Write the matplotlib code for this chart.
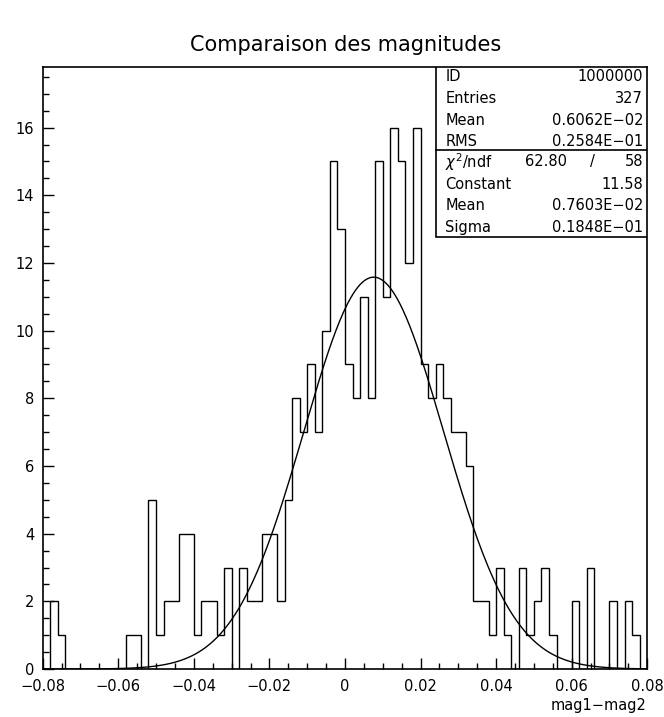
import numpy as np
import matplotlib
matplotlib.use('Agg')
import matplotlib.pyplot as plt
from matplotlib.patches import Rectangle
from matplotlib.ticker import MultipleLocator

# histogramme: 80 canaux de -0.08 a 0.08
x_min, x_max, n_bins = -0.08, 0.08, 80
counts = [0, 2, 1, 0, 0, 0, 0, 0, 0, 0,
          0, 1, 1, 0, 5, 1, 2, 2, 4, 4,
          1, 2, 2, 1, 3, 0, 3, 2, 2, 4,
          4, 2, 5, 8, 7, 9, 7, 10, 15, 13,
          9, 8, 11, 8, 15, 11, 16, 15, 12, 16,
          9, 8, 9, 8, 7, 7, 6, 2, 2, 1,
          3, 1, 0, 3, 1, 2, 3, 1, 0, 0,
          2, 0, 3, 0, 0, 2, 0, 2, 1, 0]

# ajustement gaussien
fit_const, fit_mean, fit_sigma = 11.58, 0.7603e-02, 0.1848e-01

stats_labels = ['ID', 'Entries', 'Mean', 'RMS']
stats_values = ['1000000', '327', '0.6062E\u221202', '0.2584E\u221201']
fit_labels = ['Constant', 'Mean', 'Sigma']
fit_values = ['11.58', '0.7603E\u221202', '0.1848E\u221201']
chi2, ndf = '62.80', '58'

edges = np.linspace(x_min, x_max, n_bins + 1)

fig = plt.figure(figsize=(6.64, 7.17), dpi=100)
ax = fig.add_axes([0.0643, 0.0669, 0.9105, 0.8401])

ax.stairs(counts, edges, color='black', linewidth=1.0)
xs = np.linspace(x_min, x_max, 500)
ax.plot(xs, fit_const * np.exp(-0.5 * ((xs - fit_mean) / fit_sigma) ** 2),
        color='black', linewidth=1.0)

ax.set_xlim(x_min, x_max)
ax.set_ylim(0, 17.8)
ax.xaxis.set_major_locator(MultipleLocator(0.02))
ax.xaxis.set_minor_locator(MultipleLocator(0.005))
ax.yaxis.set_major_locator(MultipleLocator(2))
ax.yaxis.set_minor_locator(MultipleLocator(0.5))
ax.tick_params(which='both', direction='in', top=False, right=False,
               labelsize=10.5, width=1.0)
ax.tick_params(which='major', length=8)
ax.tick_params(which='minor', length=4.5)
ax.tick_params(axis='x', pad=7)
ax.tick_params(axis='y', pad=6)
ax.set_xticks(np.arange(-0.08, 0.0801, 0.02))
ax.set_xticklabels(['\u22120.08', '\u22120.06', '\u22120.04', '\u22120.02', '0',
                    '0.02', '0.04', '0.06', '0.08'])
for s in ax.spines.values():
    s.set_linewidth(1.2)

fig.text(0.52, 0.937, 'Comparaison des magnitudes', ha='center', va='center',
         fontsize=15, color='black')
fig.text(0.974, 0.016, 'mag1\u2212mag2', ha='right', va='center', fontsize=10.5)

# boite de statistiques
bx0, by0, bsep = 0.6505, 0.717, 0.862
ax.add_patch(Rectangle((bx0, by0), 1 - bx0, 1 - by0, transform=ax.transAxes,
                       facecolor='white', edgecolor='black', linewidth=1.2, zorder=5))
ax.plot([bx0, 1], [bsep, bsep], transform=ax.transAxes, color='black',
        linewidth=1.2, zorder=6)
lx, rx = 0.666, 0.993
rows_top = [0.984, 0.948, 0.910, 0.875]
for yy, lab, val in zip(rows_top, stats_labels, stats_values):
    ax.text(lx, yy, lab, transform=ax.transAxes, ha='left', va='center',
            fontsize=10.5, zorder=7)
    ax.text(rx, yy, val, transform=ax.transAxes, ha='right', va='center',
            fontsize=10.5, zorder=7)
ax.text(lx, 0.842, r'$\chi^2$/ndf', transform=ax.transAxes, ha='left',
        va='center', fontsize=10.5, zorder=7)
ax.text(0.867, 0.842, chi2, transform=ax.transAxes, ha='right', va='center',
        fontsize=10.5, zorder=7)
ax.text(0.91, 0.842, '/', transform=ax.transAxes, ha='center', va='center',
        fontsize=10.5, zorder=7)
ax.text(rx, 0.842, ndf, transform=ax.transAxes, ha='right', va='center',
        fontsize=10.5, zorder=7)
for yy, lab, val in zip([0.805, 0.769, 0.733], fit_labels, fit_values):
    ax.text(lx, yy, lab, transform=ax.transAxes, ha='left', va='center',
            fontsize=10.5, zorder=7)
    ax.text(rx, yy, val, transform=ax.transAxes, ha='right', va='center',
            fontsize=10.5, zorder=7)

fig.savefig('out.png', dpi=100)
